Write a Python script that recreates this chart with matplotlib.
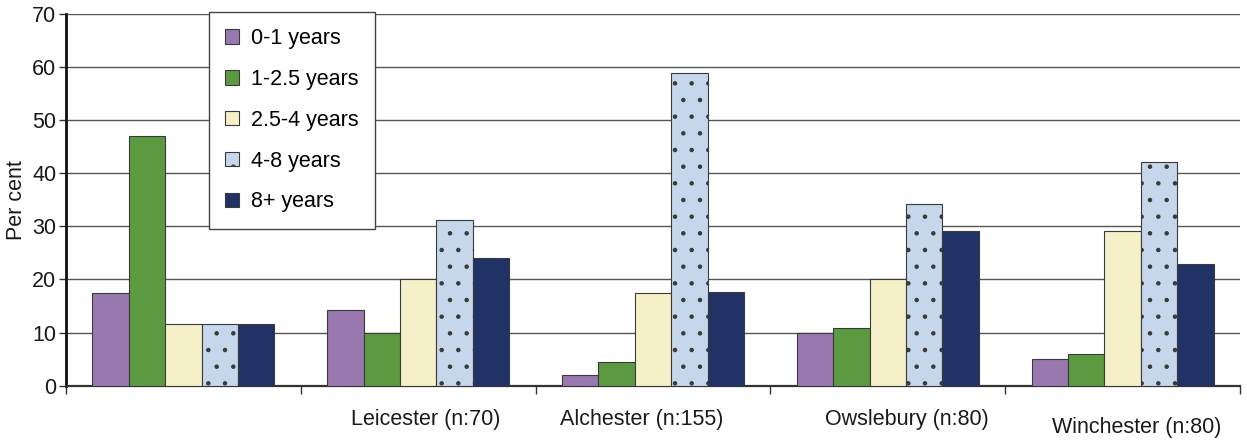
import matplotlib
matplotlib.use("Agg")
import matplotlib.pyplot as plt
import numpy as np

plt.rcParams['font.family'] = ['Liberation Sans', 'DejaVu Sans']
plt.rcParams['hatch.color'] = '#111111'
plt.rcParams['hatch.linewidth'] = 0.8

sites = ["", "Leicester (n:70)", "Alchester (n:155)", "Owslebury (n:80)", "Winchester (n:80)"]
age_groups = ["0-1 years", "1-2.5 years", "2.5-4 years", "4-8 years", "8+ years"]

age_0_1 = [17.5, 14.2, 2.0, 10.0, 5.0]
age_1_25 = [47.1, 10.0, 4.5, 10.8, 5.9]
age_25_4 = [11.7, 20.0, 17.5, 20.0, 29.2]
age_4_8 = [11.7, 31.2, 58.8, 34.2, 42.1]
age_8_plus = [11.7, 24.0, 17.6, 29.2, 22.9]

series = [age_0_1, age_1_25, age_25_4, age_4_8, age_8_plus]
colors = ["#9878ae", "#5c9a42", "#f5f0c8", "#c6d6eb", "#213266"]
hatches = [None, None, None, ".", None]

FS = 15.5

fig = plt.figure(figsize=(12.47, 4.42), dpi=100)
ax = fig.add_axes([0.0529, 0.1274, 0.9415, 0.8409])

x = np.arange(len(sites))
width = 0.155
for k, (vals, col, h) in enumerate(zip(series, colors, hatches)):
    offs = (k - 2) * width
    ax.bar(x + offs, vals, width, color=col, edgecolor="#3a3a3a",
           linewidth=0.8, hatch=h, label=age_groups[k], zorder=3)

ax.set_xlim(-0.5, len(sites) - 0.5)
ax.set_ylim(0, 70)
ax.set_yticks(range(0, 71, 10))
ax.yaxis.grid(True, color="#555555", linewidth=1.0, zorder=0)
ax.set_axisbelow(True)

ax.set_xticks(np.arange(-0.5, len(sites), 1.0))
ax.set_xticklabels([])
ax.tick_params(axis="x", direction="out", length=6, width=1.0, color="#333333")
ax.tick_params(axis="y", direction="out", length=5, width=1.0, color="#333333",
               labelsize=FS, pad=2, labelcolor="#1a1a1a")

for side in ("top", "right"):
    ax.spines[side].set_visible(False)
ax.spines["left"].set_linewidth(2.0)
ax.spines["left"].set_color("#111111")
ax.spines["bottom"].set_linewidth(1.6)
ax.spines["bottom"].set_color("#333333")

# category labels sit a little off-centre and slightly staggered
label_dx = [0.0, 0.03, -0.05, 0.08, 0.06]
label_dy = [0, 0, 0, 0, -8]
for i, name in enumerate(sites):
    if not name:
        continue
    ax.annotate(name, xy=(i + label_dx[i], 0), xycoords=("data", "axes fraction"),
                xytext=(0, -23 + label_dy[i]), textcoords="offset pixels",
                ha="center", va="top", fontsize=FS, color="#1a1a1a")

ax.set_ylabel("Per cent", fontsize=FS, color="#1a1a1a", labelpad=4)

leg = ax.legend(loc="upper left", bbox_to_anchor=(209 / 1247, 1 - 12 / 442),
                bbox_transform=fig.transFigure, fontsize=FS,
                handlelength=0.65, handleheight=0.65, handletextpad=0.55,
                labelspacing=0.92, borderpad=0.75, borderaxespad=0,
                frameon=True, fancybox=False)
leg.get_frame().set_edgecolor("#444444")
leg.get_frame().set_linewidth(1.0)
leg.get_frame().set_alpha(1.0)
leg.set_zorder(5)

fig.savefig("out.png", dpi=100)
